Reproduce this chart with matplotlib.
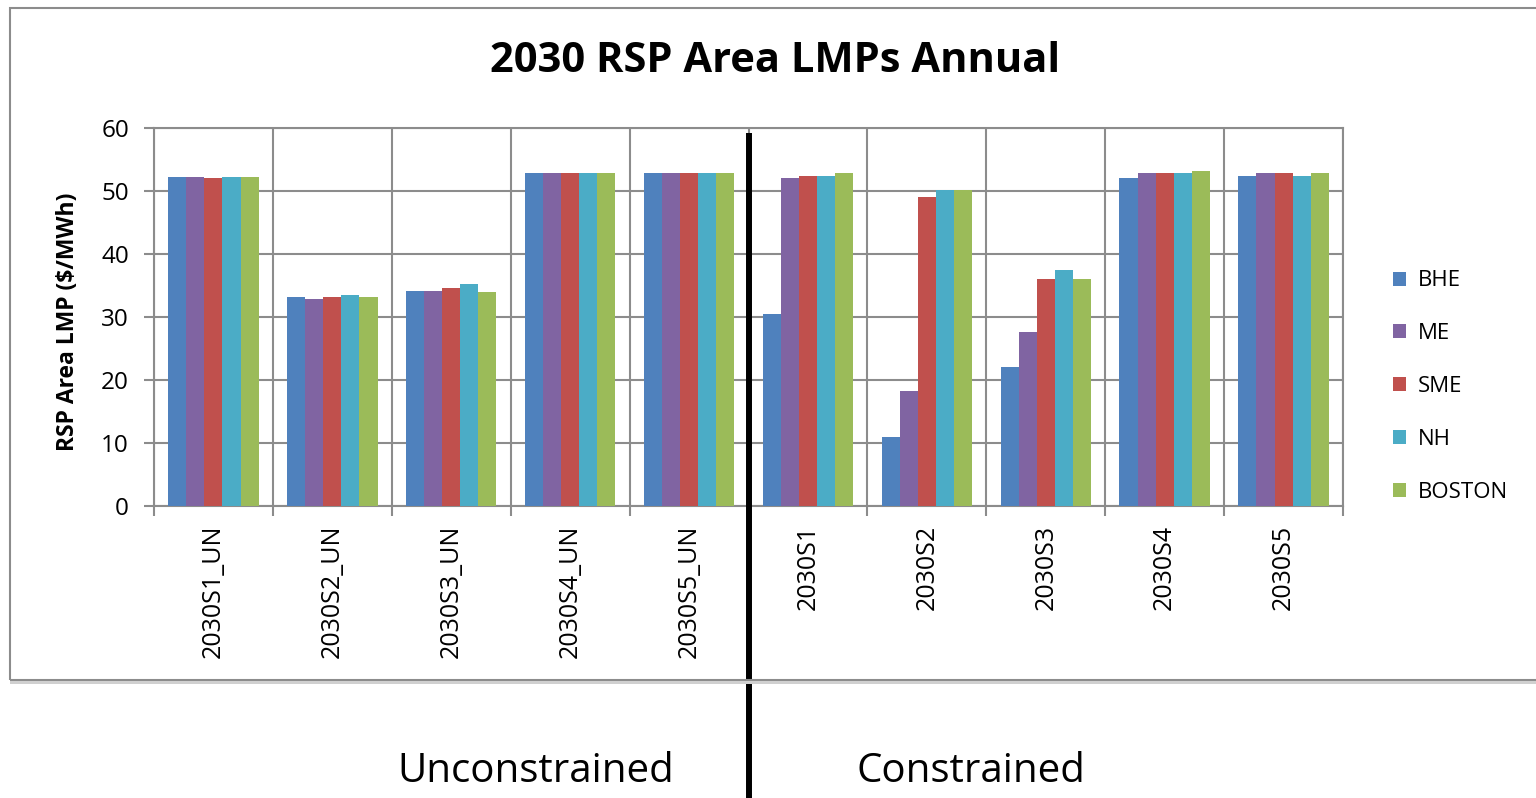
import matplotlib
matplotlib.use("Agg")
import matplotlib.pyplot as plt
import matplotlib.transforms as mtransforms
from matplotlib.patches import Rectangle
import numpy as np

categories = ["2030S1_UN", "2030S2_UN", "2030S3_UN", "2030S4_UN", "2030S5_UN",
              "2030S1", "2030S2", "2030S3", "2030S4", "2030S5"]
series_names = ["BHE", "ME", "SME", "NH", "BOSTON"]
bhe = [52.3, 33.1, 34.2, 52.8, 52.8, 30.5, 10.9, 22.0, 52.0, 52.4]
me = [52.3, 32.8, 34.2, 52.8, 52.8, 52.0, 18.3, 27.6, 52.8, 52.8]
sme = [52.0, 33.1, 34.6, 52.8, 52.8, 52.4, 49.1, 36.0, 52.8, 52.8]
nh = [52.3, 33.5, 35.3, 52.8, 52.8, 52.4, 50.1, 37.5, 52.8, 52.4]
boston = [52.3, 33.1, 33.9, 52.8, 52.8, 52.8, 50.1, 36.0, 53.1, 52.8]
colors = ["#4F81BD", "#8064A2", "#C0504D", "#4BACC6", "#9BBB59"]
yticks = [0, 10, 20, 30, 40, 50, 60]

FONT = ["Open Sans", "DejaVu Sans"]
plt.rcParams['font.family'] = FONT

W, H = 1536, 798
fig = plt.figure(figsize=(W/100, H/100), dpi=100)
ax_l, ax_r, ax_t, ax_b = 154, 1343, 128, 506
ax = fig.add_axes([ax_l/W, 1-ax_b/H, (ax_r-ax_l)/W, (ax_b-ax_t)/H])

values = [bhe, me, sme, nh, boston]
n = len(series_names)
w = 0.152
x = np.arange(len(categories))
for i, (name, vals, c) in enumerate(zip(series_names, values, colors)):
    ax.bar(x + (i - (n-1)/2) * w, vals, width=w, color=c, label=name,
           edgecolor='none', zorder=3)

ax.set_xlim(-0.5, len(categories) - 0.5)
ax.set_ylim(0, 60)
ax.set_yticks(yticks)
ax.set_yticklabels([str(v) for v in yticks], fontsize=17.5)
ax.set_xticks(x)
ax.set_xticklabels(categories, rotation=90, fontsize=18)
ax.tick_params(axis='x', length=0, pad=13.5)
ax.set_xticks(np.arange(-0.5, len(categories)), minor=True)
ax.tick_params(axis='x', which='minor', length=7, color='#8c8c8c', width=1.5)
ax.tick_params(axis='y', length=7, color='#8c8c8c', width=1.5, pad=11)
ax.grid(axis='y', color='#8c8c8c', linewidth=1.5, zorder=0)
ax.grid(axis='x', which='minor', color='#8c8c8c', linewidth=1.5, zorder=0)
for s in ax.spines.values():
    s.set_color('#8c8c8c')
    s.set_linewidth(1.5)

fig.text(68/W, 1-322/H, "RSP Area LMP ($/MWh)", rotation=90, ha='center', va='center',
         fontsize=16.5, fontweight='bold')

fig.text(775/W, 1-62/H, "2030 RSP Area LMPs Annual", ha='center', va='center',
         fontsize=30, fontweight='bold')

leg = ax.legend(loc='center left', bbox_to_anchor=((1393-ax_l)/(ax_r-ax_l), (ax_b-386.5)/(ax_b-ax_t)),
                frameon=False, fontsize=16, handlelength=0.6, handleheight=0.6,
                labelspacing=1.43, handletextpad=0.5, borderpad=0, borderaxespad=0)

# divider line between unconstrained and constrained
trans = mtransforms.blended_transform_factory(ax.transData, fig.transFigure)
ax.plot([4.5, 4.5], [1-133/H, 0], transform=trans, color='black', linewidth=4.3,
        clip_on=False, zorder=10, solid_capstyle='butt')

# outer chart border
fig.patches.append(Rectangle((10/W, 1-680/H), 1530/W, 672/H,
                             transform=fig.transFigure, fill=False,
                             edgecolor='#8c8c8c', linewidth=1.5))
fig.patches.append(Rectangle((10/W, 1-684/H), 1526/W, 3/H,
                             transform=fig.transFigure, fill=True,
                             facecolor='#d0d0d0', edgecolor='none'))

fig.text(536/W, 1-772/H, "Unconstrained", ha='center', va='center', fontsize=29)
fig.text(971/W, 1-772/H, "Constrained", ha='center', va='center', fontsize=29)

fig.savefig("out.png", dpi=100)
